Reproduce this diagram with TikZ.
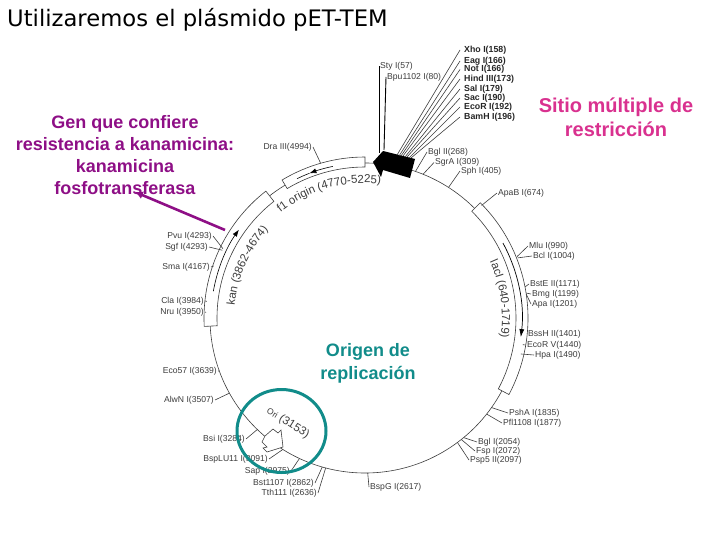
\documentclass[tikz,border=0pt]{standalone}
\usepackage{fontspec}
\setmainfont{Liberation Sans}
\newfontfamily\titlefont{DejaVu Sans}
\usetikzlibrary{arrows.meta,decorations.text}
\definecolor{myPink}{HTML}{D9318F}
\definecolor{myPurple}{HTML}{8E0F86}
\definecolor{myTeal}{HTML}{118C8A}
\definecolor{myGray}{HTML}{3C3C3C}
\tikzset{
  site/.style={font=\fontsize{8.6}{10}\selectfont, text=myGray, inner sep=1pt},
  mcssite/.style={font=\fontsize{8.8}{10}\selectfont\bfseries, text=black!85, inner sep=1pt},
  ticksite/.style={draw=myGray, line width=0.6pt},
  ringbox/.style={draw=myGray, fill=white, line width=0.6pt},
  callout/.style={font=\fontsize{18}{22}\selectfont\bfseries, align=center}
}
\begin{document}
\begin{tikzpicture}[x=1pt,y=-1pt]
\useasboundingbox (0,0) rectangle (720,540);

\node[anchor=west, inner sep=0pt, font=\titlefont\fontsize{22.7}{24}\selectfont] (title) at (7,20) {Utilizaremos el plásmido pET-TEM};

% plasmid ring
\begin{scope}[shift={(365,318)}]
\draw[myGray, line width=0.6pt] (0,0) circle[radius=155pt];
\draw[ringbox] (90:161pt) arc[start angle=90,end angle=121,radius=161pt] -- (121:151pt) arc[start angle=121,end angle=90,radius=151pt] -- cycle;
\draw[ringbox] (128:161pt) arc[start angle=128,end angle=183,radius=161pt] -- (183:148pt) arc[start angle=183,end angle=128,radius=148pt] -- cycle;
\draw[ringbox] (45:163pt) arc[start angle=45,end angle=-28,radius=163pt] -- (-28:151pt) arc[start angle=-28,end angle=45,radius=151pt] -- cycle;

% genes inside the boxes
\draw[black, line width=0.6pt, -{Latex[length=7pt,width=5pt]}] (102:155pt) arc[start angle=102,end angle=111,radius=155pt];
\draw[black, line width=0.6pt] (111:155pt) arc[start angle=111,end angle=116,radius=155pt];
\draw[black, line width=0.6pt, -{Latex[length=7pt,width=5pt]}] (170:154pt) arc[start angle=170,end angle=145,radius=154pt];
\draw[black, line width=0.7pt, -{Latex[length=8pt,width=5pt]}] (28.5:157pt) arc[start angle=28.5,end angle=-7,radius=157pt];

% gene names
\path[decorate, decoration={text along path, text align=center, text color=myGray, text={|\fontsize{11.5}{12}\selectfont|f1 origin (4770-5225)}}] (128:135pt) arc[start angle=128,end angle=84,radius=135pt];
\path[decorate, decoration={text along path, text align=center, text color=myGray, text={|\fontsize{11.5}{12}\selectfont|kan (3862-4674)}}] (175:131pt) arc[start angle=175,end angle=137,radius=131pt];
\path[decorate, decoration={text along path, text align=center, text color=myGray, text={|\fontsize{11.5}{12}\selectfont|lacI (640-1719)}}] (26:137pt) arc[start angle=26,end angle=-10,radius=137pt];

% ring end of the sites
\foreach \nm/\ang/\rad in {dra/106/161, bglii/71/155, sgra/68/155, sph/57.4/155, apab/44/162, mlu/22/164, bcl/21.5/164, bste/11/163, bmg/8.8/163, apa/8.4/163, bssh/-5.6/163, ecorv/-9.6/160, hpa/-13/160, psha/-35.3/155, pfl/-38.3/155, bgli/-50.5/155, fsp/-51.6/155, psp/-53.4/155, bspg/-89/155, tth/-104.7/155, bst/-106/155, sap/-115/155, bsplu/-122/155, bsi/-134/155, alwn/-151/155, eco/-160/155, nru/178/159, cla/174/159, sma/161/160, sgf/154.6/158, pvu/154/158}
  \coordinate (\nm r) at (\ang:\rad pt);
\end{scope}

% multiple cloning site
\fill[black] (373,162) -- (383,151) -- (415,159) -- (410,178) -- (383,170) -- (381,177) -- cycle;
\coordinate (styr) at (379,153);
\coordinate (spur) at (384,150);
\foreach \nm/\sx/\sy in {xho/397/155, eag/399/156, not/401/156, hind/403/156, sal/405/157, sac/407/157, ecori/409/158, bamh/411/158}
  \coordinate (\nm r) at (\sx,\sy);

% origin arrow
\draw[ringbox] (265,436) -- (273,429) -- (278,433) -- (281,430) -- (283,447) -- (267,452) -- (263,448) -- (267,447) -- (262,442) -- cycle;

\node[site, rotate=-32, text=myGray, font=\fontsize{11.5}{12}\selectfont] (orilabel) at (288,423) {{\fontsize{8.5}{10}\selectfont Ori} (3153)};

% sites at the right
\node[site, anchor=west] (sty) at (379,66) {Sty I(57)};
\node[site, anchor=west] (spu) at (386,77) {Bpu1102 I(80)};
\node[mcssite, anchor=west] (xho) at (463,50) {Xho I(158)};
\node[mcssite, anchor=west] (eag) at (463,61) {Eag I(166)};
\node[mcssite, anchor=west] (not) at (463,69.5) {Not I(166)};
\node[mcssite, anchor=west] (hind) at (463,79) {Hind III(173)};
\node[mcssite, anchor=west] (sal) at (463,89) {Sal I(179)};
\node[mcssite, anchor=west] (sac) at (463,98) {Sac I(190)};
\node[mcssite, anchor=west] (ecori) at (463,107) {EcoR I(192)};
\node[mcssite, anchor=west] (bamh) at (463,117) {BamH I(196)};
\node[site, anchor=west] (bglii) at (427,152) {Bgl II(268)};
\node[site, anchor=west] (sgra) at (434,162.5) {SgrA I(309)};
\node[site, anchor=west] (sph) at (460,171) {Sph I(405)};
\node[site, anchor=west] (apab) at (497,193) {ApaB I(674)};
\node[site, anchor=west] (mlu) at (528,246) {Mlu I(990)};
\node[site, anchor=west] (bcl) at (532,256) {Bcl I(1004)};
\node[site, anchor=west] (bste) at (529,284) {BstE II(1171)};
\node[site, anchor=west] (bmg) at (531,294) {Bmg I(1199)};
\node[site, anchor=west] (apa) at (531,304) {Apa I(1201)};
\node[site, anchor=west] (bssh) at (527,334) {BssH II(1401)};
\node[site, anchor=west] (ecorv) at (526,345) {EcoR V(1440)};
\node[site, anchor=west] (hpa) at (534,355) {Hpa I(1490)};
\node[site, anchor=west] (psha) at (508,413) {PshA I(1835)};
\node[site, anchor=west] (pfl) at (502,423) {Pfl1108 I(1877)};
\node[site, anchor=west] (bgli) at (477,442) {Bgl I(2054)};
\node[site, anchor=west] (fsp) at (475,451) {Fsp I(2072)};
\node[site, anchor=west] (psp) at (469,460) {Psp5 II(2097)};
\node[site, anchor=west] (bspg) at (369,487) {BspG I(2617)};

% sites at the left
\node[site, anchor=east] (dra) at (313,147) {Dra III(4994)};
\node[site, anchor=east] (pvu) at (213,236) {Pvu I(4293)};
\node[site, anchor=east] (sgf) at (209,247) {Sgf I(4293)};
\node[site, anchor=east] (sma) at (211,267) {Sma I(4167)};
\node[site, anchor=east] (cla) at (205,301) {Cla I(3984)};
\node[site, anchor=east] (nru) at (205,312) {Nru I(3950)};
\node[site, anchor=east] (eco) at (218,371) {Eco57 I(3639)};
\node[site, anchor=east] (alwn) at (215,400) {AlwN I(3507)};
\node[site, anchor=east] (bsi) at (246,439) {Bsi I(3284)};
\node[site, anchor=east] (bsplu) at (269,459) {BspLU11 I(3091)};
\node[site, anchor=east] (sap) at (291,471) {Sap I(2975)};
\node[site, anchor=east] (bst) at (315,483) {Bst1107 I(2862)};
\node[site, anchor=east] (tth) at (318,493) {Tth111 I(2636)};

% ticks
\foreach \nm in {bglii, sgra, sph, apab, mlu, bcl, bste, bmg, apa, bssh, ecorv, hpa, psha, pfl, bgli, fsp, psp, bspg}
  \draw[ticksite] (\nm r) -- (\nm.west);
\foreach \nm in {sty, spu}
  \draw[black, line width=0.9pt] (\nm r) -- (\nm.west);
\foreach \nm in {xho, eag, not, hind, sal, sac, ecori, bamh}
  \draw[ticksite] (\nm r) -- ([xshift=-3pt]\nm.west);
\foreach \nm in {dra, pvu, sgf, sma, cla, nru, eco, alwn, bsi, bsplu, sap, bst, tth}
  \draw[ticksite] (\nm r) -- (\nm.east);

% callouts
\node[callout, text=myPink, font=\fontsize{20}{24}\selectfont\bfseries] (sitio) at (616,117) {Sitio múltiple de\\restricción};
\node[callout, text=myPurple] (gen) at (125,155) {Gen que confiere\\resistencia a kanamicina:\\kanamicina\\fosfotransferasa};
\node[callout, text=myTeal, font=\fontsize{18}{23}\selectfont\bfseries] (origen) at (368,363.5) {Origen de\\replicación};

\coordinate (kanpoint) at (225,230);
\coordinate (genpoint) at (135,192);
\draw[myPurple, line width=2.6pt, -{Latex[length=8pt,width=8pt]}] (kanpoint) -- (genpoint);
\draw[myTeal, line width=3pt] (281.5,431) circle[x radius=44.5pt, y radius=41.5pt];
\end{tikzpicture}
\end{document}
